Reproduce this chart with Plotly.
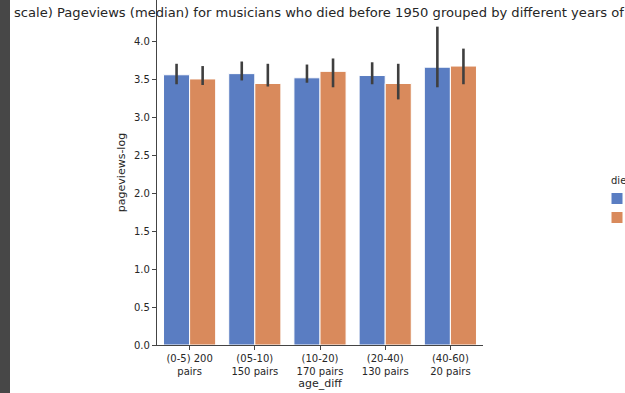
import plotly.graph_objects as go

categories = ["(0-5) 200<br>pairs", "(05-10)<br>150 pairs", "(10-20)<br>170 pairs",
              "(20-40)<br>130 pairs", "(40-60)<br>20 pairs"]
series_names = ["True", "False"]
blue_vals = [3.565, 3.58, 3.525, 3.555, 3.665]
blue_lo = [3.44, 3.49, 3.46, 3.44, 3.40]
blue_hi = [3.71, 3.74, 3.70, 3.73, 4.20]
orange_vals = [3.51, 3.45, 3.61, 3.45, 3.68]
orange_lo = [3.43, 3.41, 3.40, 3.24, 3.44]
orange_hi = [3.68, 3.71, 3.78, 3.71, 3.91]
y_ticks = [0.0, 0.5, 1.0, 1.5, 2.0, 2.5, 3.0, 3.5, 4.0]
title_text = ("scale) Pageviews (median) for musicians who died before 1950 "
              "grouped by different years of difference in age")
legend_title = "died_earlier"

W, H = 625, 393
ML, MR, MT, MB = 157, 142, 0, 48
PW, PH = W - ML - MR, H - MT - MB
FONT = "DejaVu Sans, Liberation Sans, sans-serif"
INK = "#262626"
STRIP = "#474747"

def px_x(p):
    return (p - ML) / PW

def px_y(p):
    return (H - MB - p) / PH

fig = go.Figure()
for name, vals, lo, hi, col in [
    (series_names[0], blue_vals, blue_lo, blue_hi, "#5a7dc2"),
    (series_names[1], orange_vals, orange_lo, orange_hi, "#d98a5c"),
]:
    fig.add_trace(go.Bar(
        x=categories, y=vals, name=name,
        marker=dict(color=col, line=dict(color="white", width=1)),
        error_y=dict(type="data", symmetric=False,
                     array=[h - v for h, v in zip(hi, vals)],
                     arrayminus=[v - l for v, l in zip(vals, lo)],
                     thickness=2.6, width=0, color="#3f3f3f"),
    ))

fig.update_layout(
    width=W, height=H,
    margin=dict(l=ML, r=MR, t=MT, b=MB, pad=0, autoexpand=False),
    paper_bgcolor="white", plot_bgcolor="white",
    barmode="group", bargap=0.2, bargroupgap=0,
    font=dict(family=FONT, size=10, color=INK),
    showlegend=True,
    legend=dict(xref="container", yref="container",
                x=609 / W, y=(H - 171) / H, xanchor="left", yanchor="top",
                title=dict(text=legend_title, font=dict(size=10)),
                font=dict(size=7), bgcolor="rgba(0,0,0,0)",
                itemwidth=30, tracegroupgap=0, indentation=-12),
    xaxis=dict(showline=True, linecolor="#444", linewidth=1.2,
               ticks="outside", ticklen=4, tickcolor="#444", tickwidth=1.2,
               tickfont=dict(size=10, color=INK),
               title=dict(text="age_diff", font=dict(size=11, color=INK), standoff=1),
               showgrid=False, zeroline=False, automargin=False),
    yaxis=dict(range=[0, PH / 75.8], showline=True, linecolor="#444", linewidth=1.2,
               ticks="outside", ticklen=4, tickcolor="#444", tickwidth=1.2,
               tickvals=y_ticks, ticktext=[f"{v:.1f}" for v in y_ticks],
               tickfont=dict(size=10, color=INK),
               title=dict(text="pageviews-log", font=dict(size=11, color=INK), standoff=6),
               showgrid=False, zeroline=False, automargin=False),
)

# dark window strip at the left edge
fig.add_shape(type="rect", xref="paper", yref="paper",
              x0=px_x(-5), x1=px_x(10), y0=px_y(H + 5), y1=px_y(-5),
              fillcolor=STRIP, line=dict(width=0), layer="above")

fig.add_annotation(text=title_text, xref="paper", yref="paper",
                   x=px_x(12), y=px_y(13), xanchor="left", yanchor="middle",
                   showarrow=False, font=dict(size=13.1, color=INK, family=FONT))

fig.write_html("out.html")
